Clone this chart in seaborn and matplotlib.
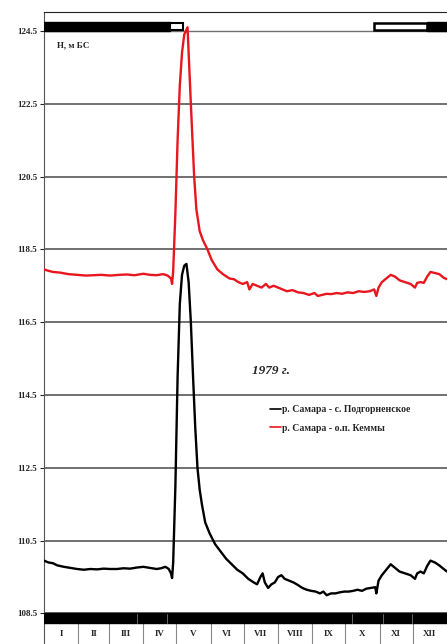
import pandas as pd
import matplotlib
matplotlib.use('Agg')
from matplotlib import pyplot as plt
from matplotlib.patches import Rectangle
import seaborn as sns

# Water level, m BS (Baltic system), 1979, by day of year
black_days = [0, 4, 8, 12, 18, 24, 30, 36, 42, 48, 54, 60, 66, 72, 78, 84, 90, 96, 102, 106,
              110, 113, 115, 116, 117, 119, 121, 123, 125, 127, 129, 131, 133, 135, 137, 139,
              141, 143, 146, 150, 155, 160, 165, 170, 175, 180, 185, 190, 193, 196, 198, 200,
              203, 206, 209, 212, 215, 218, 222, 226, 230, 234, 238, 242, 246, 250, 253, 256,
              260, 264, 268, 272, 276, 280, 284, 288, 292, 296, 300, 301, 303, 306, 310, 314,
              318, 322, 327, 332, 336, 338, 341, 344, 347, 350, 354, 358, 362, 365]
black_level = [109.95, 109.9, 109.88, 109.82, 109.78, 109.75, 109.72, 109.7, 109.72, 109.71,
               109.73, 109.72, 109.72, 109.74, 109.73, 109.76, 109.78, 109.75, 109.72, 109.74,
               109.78, 109.72, 109.6, 109.47, 109.9, 112.0, 115.0, 117.0, 117.8, 118.05,
               118.1, 117.6, 116.5, 115.0, 113.6, 112.5, 111.9, 111.5, 111.0, 110.7,
               110.4, 110.2, 110.0, 109.85, 109.7, 109.6, 109.45, 109.35, 109.3, 109.5,
               109.6, 109.35, 109.2, 109.3, 109.35, 109.5, 109.55, 109.45, 109.4, 109.35,
               109.28, 109.2, 109.15, 109.12, 109.1, 109.05, 109.1, 109.0, 109.05, 109.05,
               109.08, 109.1, 109.1, 109.12, 109.15, 109.12, 109.18, 109.2, 109.22, 109.05,
               109.4, 109.55, 109.7, 109.85, 109.75, 109.65, 109.6, 109.55, 109.45, 109.6,
               109.65, 109.6, 109.8, 109.95, 109.9, 109.82, 109.72, 109.65]

red_days = [0, 3, 8, 15, 22, 30, 38, 45, 52, 60, 68, 75, 82, 90, 96, 102, 108, 112, 115, 116,
            117, 119, 121, 123, 125, 127, 130, 133, 136, 138, 141, 144, 148, 152, 157, 162,
            168, 172, 176, 180, 184, 186, 189, 193, 197, 201, 204, 208, 212, 216, 220, 225,
            230, 235, 240, 245, 248, 252, 256, 260, 265, 270, 275, 280, 285, 290, 295, 299,
            301, 303, 306, 310, 314, 318, 322, 327, 332, 336, 338, 341, 344, 347, 350, 354,
            358, 362, 365]
red_level = [117.95, 117.92, 117.88, 117.86, 117.82, 117.8, 117.78, 117.79, 117.8, 117.78,
             117.8, 117.81, 117.79, 117.83, 117.8, 117.79, 117.82, 117.78, 117.7, 117.55,
             117.9, 119.5, 121.5, 123.0, 123.9, 124.4, 124.6, 122.5, 120.5, 119.6,
             119.0, 118.75, 118.5, 118.2, 117.95, 117.82, 117.7, 117.68, 117.6, 117.55,
             117.6, 117.4, 117.55, 117.5, 117.45, 117.55, 117.45, 117.5, 117.45, 117.4,
             117.35, 117.38, 117.32, 117.3, 117.25, 117.3, 117.22, 117.25, 117.28, 117.27,
             117.3, 117.28, 117.32, 117.3, 117.35, 117.33, 117.35, 117.4, 117.22, 117.45,
             117.6, 117.7, 117.8, 117.75, 117.65, 117.6, 117.55, 117.45, 117.58, 117.6,
             117.58, 117.75, 117.88, 117.85, 117.82, 117.72, 117.68]

black_name = 'р. Самара - с. Подгорненское'
red_name = 'р. Самара - о.п. Кеммы'

months = ['I', 'II', 'III', 'IV', 'V', 'VI', 'VII', 'VIII', 'IX', 'X', 'XI', 'XII']
month_len = [31, 28, 31, 30, 31, 30, 31, 31, 30, 31, 30, 31]
yticks = [108.5, 110.5, 112.5, 114.5, 116.5, 118.5, 120.5, 122.5, 124.5]

df = pd.concat([
    pd.DataFrame({'day': black_days, 'H': black_level, 'post': black_name}),
    pd.DataFrame({'day': red_days, 'H': red_level, 'post': red_name}),
])

sns.set_style('white')
plt.rcParams['font.family'] = ['Liberation Serif', 'DejaVu Serif']

fig = plt.figure(figsize=(4.47, 6.44), dpi=100)
ax = fig.add_axes([44 / 447, 0, 403 / 447, 1 - 12 / 644])

# grid first so lines lie on top
for t in yticks:
    ax.axhline(t, color='#707070', lw=1.4 if t < 124 else 1.0, zorder=1)

sns.lineplot(data=df, x='day', y='H', hue='post', sort=False, estimator=None,
             palette={black_name: 'black', red_name: '#e8161e'}, lw=1.7, ax=ax, zorder=3)

ax.set_xlim(0, 365)
ax.set_ylim(107.66, 125.02)
ax.set_xticks([])
ax.set_yticks(yticks)
ax.set_yticklabels([f'{t:.1f}' for t in yticks], fontsize=6.5, fontweight='bold')
ax.tick_params(axis='y', length=3, width=0.8, pad=2, left=True)
ax.set_xlabel('')
ax.set_ylabel('')
for s in ['right', 'bottom']:
    ax.spines[s].set_visible(False)
ax.spines['left'].set_color('#555555')
ax.spines['top'].set_color('#222222')

# ice bar on top
ax.add_patch(Rectangle((0, 124.5), 114, 0.25, color='black', zorder=4))
ax.add_patch(Rectangle((114, 124.53), 12, 0.19, fc='white', ec='black', lw=1.5, zorder=4))
ax.add_patch(Rectangle((299, 124.53), 48, 0.19, fc='white', ec='black', lw=1.8, zorder=4))
ax.add_patch(Rectangle((347, 124.5), 18, 0.25, color='black', zorder=4))

# bottom bar and months
ax.add_patch(Rectangle((0, 108.23), 365, 0.27, color='black', zorder=4))
for d in [84, 111, 279, 307, 333]:
    ax.plot([d, d], [108.24, 108.49], color='#777777', lw=0.6, zorder=5)
start = 0
for m, n in zip(months, month_len):
    ax.text(start + n / 2, 107.93, m, ha='center', va='center', fontsize=6.5, fontweight='bold')
    start += n
    if start < 365:
        ax.plot([start, start], [107.66, 108.23], color='#888888', lw=0.8, clip_on=False)

ax.text(12, 124.1, 'Н, м БС', fontsize=6.5, fontweight='bold', va='center')
ax.text(188, 115.15, '1979 г.', fontsize=9.5, fontweight='bold', style='italic', va='center')

leg = ax.legend(loc='upper left', bbox_to_anchor=(0.54, 0.392), frameon=False,
                fontsize=7, handlelength=1.1, handletextpad=0.1, labelspacing=1.0)
for t in leg.get_texts():
    t.set_fontweight('bold')
for line in leg.get_lines():
    line.set_linewidth(1.2)

plt.savefig('out.png', dpi=100)
